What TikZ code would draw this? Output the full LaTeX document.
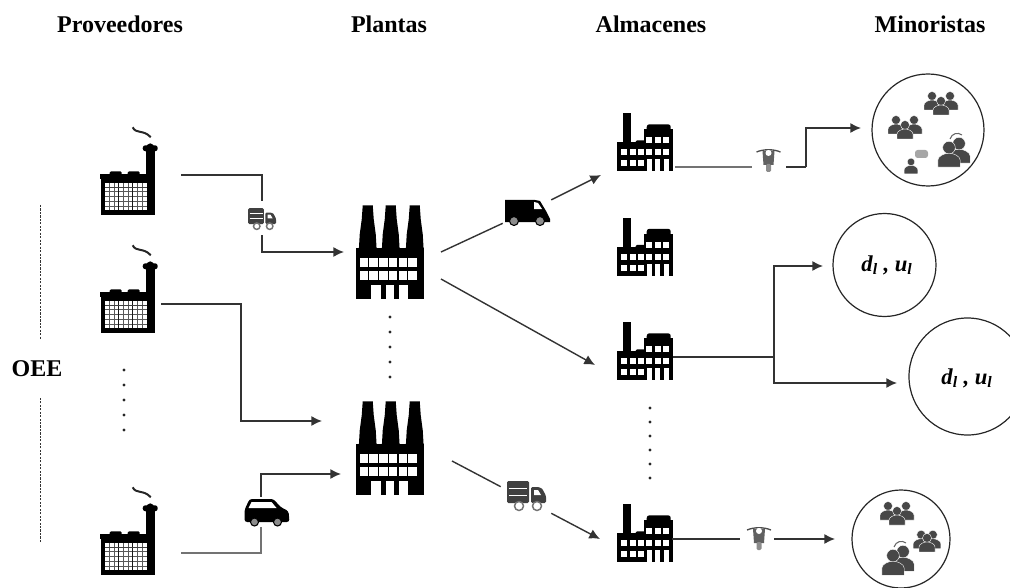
\documentclass[tikz,border=0pt]{standalone}
\usepackage{fontspec}
\usepackage{tikz}
\setmainfont{Liberation Serif}
\usetikzlibrary{positioning,arrows.meta,calc}

\begin{document}
\begin{tikzpicture}[
          x=0.75pt,
          y=-0.75pt,
          every node/.style={font=\bfseries\fontsize{18}{20}\selectfont},
          titulo/.style={inner sep=0pt},
          valor/.style={font=\bfseries\itshape\fontsize{17}{19}\selectfont, inner sep=0pt},
          caja/.style 2 args={minimum width=#1*0.75pt, minimum height=#2*0.75pt, inner sep=0pt},
          minorista/.style={draw=black!85, circle, line width=0.9pt, minimum size=#1*0.75pt, inner sep=0pt},
          linea/.style={draw=black!80, line width=1.05pt},
          tenue/.style={draw=black!55, line width=1.5pt},
          flecha/.style={linea, -{Latex[length=8pt,width=7.5pt]}},
          discontinua/.style={draw=black!80, line width=0.6pt, dash pattern=on 1.6pt off 1pt},
          puntos/.style={draw=black!85, line width=2.4pt, line cap=round, dash pattern=on 0pt off #1*0.75pt},
          gente/.style={fill=black!72, draw=white, line width=0.3pt},
          proveedor/.pic={
            \fill (1,0) rectangle (55,-38);
            \fill (0,-41) rectangle (46,-36);
            \fill[rounded corners=1pt] (10,-44) rectangle (22,-38);
            \fill[rounded corners=1pt] (28,-44) rectangle (40,-38);
            \fill (46,0) rectangle (55,-68);
            \fill[rounded corners=2pt] (43,-70) rectangle (58,-64);
            \fill (46,-66) .. controls (47,-74) and (54,-74) .. (55,-66);
            \draw[line width=1.5pt, black!85] (33,-88) .. controls (36,-81) and (44,-86) .. (51,-78);
            \fill[white] (5,-5) rectangle (47,-32);
            \foreach \gx in {9.7,14.3,23.7,28.3,37.7,42.3}
              \draw[black!65, line width=0.6pt] (\gx,-5) -- (\gx,-32);
            \foreach \gy in {-9,-14,-19,-24}
              \draw[black!65, line width=0.6pt] (5,\gy) -- (47,\gy);
            \draw[black!90, line width=1pt] (19,-5) -- (19,-32) (33,-5) -- (33,-32);
            \draw[black!75, line width=1pt] (5,-28) -- (47,-28);
          },
          planta/.pic={
            \fill (1,0) rectangle (69,-51);
            \foreach \cx in {13,36,60}
              \fill (\cx-5,-94) -- (\cx+5,-94) -- (\cx+6,-80) -- (\cx+8,-65) -- (\cx+9,-48) -- (\cx-9,-48) -- (\cx-8,-65) -- (\cx-6,-80) -- cycle;
            \foreach \px in {5,14.7,24.4,34.1,43.8,53.5} {
              \fill[white] (\px,-41) rectangle (\px+8.5,-32);
              \fill[white] (\px,-28) rectangle (\px+8.5,-19);
            }
            \fill[white] (16,0) rectangle (26,-14);
            \fill[white] (31,0) rectangle (39,-14);
            \fill[white] (44,0) rectangle (53,-14);
          },
          almacen/.pic={
            \fill (0,0) rectangle (27,-29);
            \fill (6,-29) rectangle (14,-58);
            \fill[rounded corners=1pt] (19,-26) rectangle (29,-31);
            \fill (27,0) rectangle (56,-42);
            \fill[rounded corners=2pt] (30,-47) rectangle (54,-38);
            \foreach \wx in {7,16,24,32.5,41,49.5} \fill[white] (\wx-2.8,-22) rectangle (\wx+2.8,-16);
            \foreach \wx in {7,16,24} \fill[white] (\wx-2.8,-11) rectangle (\wx+2.8,-5);
            \foreach \wx in {32.5,41,49.5} {
              \fill[white] (\wx-2.8,-34) rectangle (\wx+2.8,-28);
              \fill[white] (\wx-2.5,-12) rectangle (\wx+2.5,0);
            }
          },
          camion/.pic={
            \fill[black!75, rounded corners=1pt] (-20,-15) rectangle (2,7);
            \draw[white, line width=0.7pt] (-18,-8) -- (0,-8) (-18,-1) -- (0,-1);
            \fill[black!75, rounded corners=1pt] (4,-9) -- (11,-9) .. controls (15,-8) .. (19,0) -- (19,7) -- (4,7) -- cycle;
            \fill[white] (7,-6) -- (11,-6) -- (14,-1) -- (7,-1) -- cycle;
            \draw[black!55, fill=white, line width=1.1pt] (-8,10) circle (4.5) (10,10) circle (4.5);
          },
          furgon/.pic={
            \fill (-22,10) -- (-22,-12) -- (8,-12) -- (13,-11) -- (19,-1) -- (23,7) -- (23,10) -- cycle;
            \fill[white] (7,-10) -- (11,-9) -- (15,-3) -- (7,-3) -- cycle;
            \draw[black, fill=black!45, line width=0.8pt] (-13,9) circle (4.5) (13,9) circle (4.5);
          },
          monovolumen/.pic={
            \fill[rounded corners=2pt] (-22,10) -- (-22,-2) -- (-17,-13) -- (7,-13) -- (14,-5) -- (22,-1) -- (23,10) -- cycle;
            \fill[white] (-18,-4) -- (-15,-10) -- (5,-10) -- (10,-4) -- cycle;
            \draw[black, fill=black!45, line width=0.8pt] (-12,10) circle (4) (11,10) circle (4);
          },
          moto/.pic={
            \draw[black!70, line width=1pt] (-12,-8) .. controls (-5,-11) and (5,-11) .. (12,-8);
            \fill[black!62] (-6,-9) -- (6,-9) -- (5,5) -- (-5,5) -- cycle;
            \fill[white] (0,-7) circle (3);
            \fill[black!45, rounded corners=1pt] (-2.5,4) rectangle (2.5,12);
          },
          persona/.pic={
            \path[gente] (0,-6) circle (4.5);
            \path[gente] (-8,8) -- (-8,3) .. controls (-8,0) and (-3,-2) .. (0,-2) .. controls (3,-2) and (8,0) .. (8,3) -- (8,8) -- cycle;
          },
          grupo/.pic={
            \pic at (-9,-2) {persona};
            \pic at (9,-2) {persona};
            \pic at (0,3) {persona};
          },
          pareja/.pic={
            \pic[scale=1.4] at (6,2) {persona};
            \pic[scale=1.4] at (-4,6) {persona};
            \draw[black!60, line width=0.8pt] (-3,-11) .. controls (-1,-17) and (5,-18) .. (9,-15);
          },
          charla/.pic={
            \pic[scale=0.85] at (0,5) {persona};
            \fill[black!35, rounded corners=2pt] (4,-12) rectangle (17,-4);
          }
      ]
        \useasboundingbox (0,0) rectangle (1010,588);
        \node[titulo] (tp) at (120,24) {Proveedores};
        \node[titulo] (tl) at (389,24) {Plantas};
        \node[titulo] (ta) at (651,24) {Almacenes};
        \node[titulo] (tm) at (930,24) {Minoristas};

        \node[caja={61}{58}] (s1) at (130.5,186) {};
        \node[caja={61}{58}] (s2) at (130.5,304) {};
        \node[caja={61}{58}] (s3) at (130.5,546) {};
        \pic at (s1.south west) {proveedor};
        \pic at (s2.south west) {proveedor};
        \pic at (s3.south west) {proveedor};

        \node[caja={70}{94}] (p1) at (390,252) {};
        \node[caja={70}{94}] (p2) at (390,448) {};
        \pic at (p1.south west) {planta};
        \pic at (p2.south west) {planta};

        \node[caja={56}{58}] (a1) at (645,142) {};
        \node[caja={56}{58}] (a2) at (645,246.5) {};
        \node[caja={56}{58}] (a3) at (645,351) {};
        \node[caja={56}{58}] (a4) at (645,533) {};
        \pic at (a1.south west) {almacen};
        \pic at (a2.south west) {almacen};
        \pic at (a3.south west) {almacen};
        \pic at (a4.south west) {almacen};

        \node[caja={29}{34}] (t1) at (262,218) {};
        \node[caja={34}{30}] (t2) at (261,512) {};
        \node[caja={48}{36}] (v1) at (527,212) {};
        \node[caja={50}{36}] (t3) at (526,500) {};
        \node[caja={34}{26}] (m1) at (769,167) {};
        \node[caja={34}{26}] (m2) at (757,539) {};
        \pic[scale=0.72] at (262.5,219) {camion};
        \pic at (266.5,512) {monovolumen};
        \pic at (v1) {furgon};
        \pic at (527,496) {camion};
        \pic at (768.5,160) {moto};
        \pic at (759,538) {moto};

        \node[minorista=112] (r1) at (928,130) {};
        \node[minorista=103] (r2) at (884.5,265) {};
        \node[minorista=117] (r3) at (967.5,376.5) {};
        \node[minorista=98] (r4) at (901,539) {};
        \node[valor] (l2) at (887,265) {d\textsubscript{l} , u\textsubscript{l}};
        \node[valor] (l3) at (967,378) {d\textsubscript{l} , u\textsubscript{l}};
        \pic at (905,128) {grupo};
        \pic at (941,104) {grupo};
        \pic at (953,150) {pareja};
        \pic at (911,162) {charla};
        \pic at (897,514) {grupo};
        \pic[scale=0.65] at (927,542) {grupo};
        \pic at (897,558) {pareja};

        \node[titulo, minimum height=43.5pt] (oee) at (37,369) {OEE};
        \coordinate (o1) at (40,205);
        \coordinate (o2) at (40,542);
        \draw[discontinua] (o1) -- (o1 |- oee.north);
        \draw[discontinua] (o2) -- (o2 |- oee.south);
        \draw[puntos=15] (124,370) -- (124,438);
        \draw[puntos=15] (390,317) -- (390,383);
        \draw[puntos=14] (650,408) -- (650,479);

        \coordinate (c1) at (181,175);
        \coordinate (c3) at (181,552.5);
        \coordinate (q2) at (241,362);
        \coordinate (e1) at (344,252);
        \coordinate (e2) at (322,421);
        \coordinate (e3) at (341,474);
        \coordinate (b1) at (675,167);
        \coordinate (b3) at (673,357);
        \coordinate (b4) at (672,539);
        \coordinate (k1) at (441,252);
        \coordinate (k2) at (441,279);
        \coordinate (k3) at (452,461);
        \coordinate (d1) at (601,175);
        \coordinate (d2) at (595,365);
        \coordinate (d3) at (600,539);
        \coordinate (n1) at (806,148);
        \coordinate (n2) at (861,128);
        \coordinate (j3) at (774,357);
        \coordinate (f2) at (823,266);
        \coordinate (f3) at (897,383);
        \coordinate (h4) at (835,539);

        \draw[linea] (c1) -| (t1.north);
        \draw[flecha] (t1.south) |- (e1);
        \draw[flecha] (s2.east) -| (q2) |- (e2);
        \draw[tenue] (c3) -| (t2.south);
        \draw[flecha] (t2.north) |- (e3);

        \draw[linea] (k1) -- (v1);
        \draw[flecha] (v1) -- (d1);
        \draw[flecha] (k2) -- (d2);
        \draw[linea] (k3) -- (t3);
        \draw[flecha] (t3) -- (d3);

        \draw[tenue] (b1) -- (m1.west);
        \draw[linea] (m1.east) -- (n1 |- m1.east);
        \draw[flecha] (n1 |- m1.east) |- (n2);
        \draw[linea] (b3) -- (j3);
        \draw[flecha] (j3) |- (f2);
        \draw[flecha] (j3) |- (f3);
        \draw[linea] (b4) -- (m2.west);
        \draw[flecha] (m2.east) -- (h4);
      \end{tikzpicture}
\end{document}
